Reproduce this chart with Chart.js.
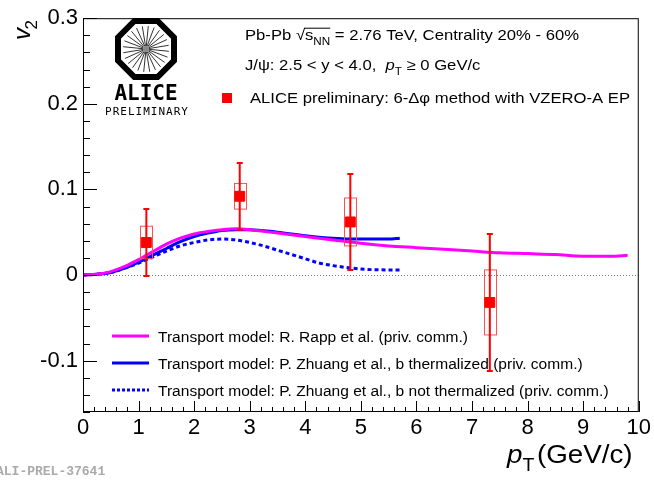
<!DOCTYPE html>
<html>
<head>
<meta charset="UTF-8">
<title>J/psi v2 vs pT</title>
<style>
body{margin:0;padding:0;background:#fff;}
#wrap{width:654px;height:482px;position:relative;}
</style>
<script src="https://cdn.jsdelivr.net/npm/chart.js"></script>
</head>
<body>
<div id="wrap"><canvas id="chart"></canvas></div>
<script>
// axis ticks
const xTicks = [0,1,2,3,4,5,6,7,8,9,10];
const yTicks = [-0.1,0,0.1,0.2,0.3];

// ALICE data points
const dataPt   = [1.14, 2.82, 4.81, 7.32];
const dataV2   = [0.038, 0.092, 0.062, -0.032];
const dataStat = [0.039, 0.039, 0.056, 0.080];
const dataSyst = [0.019, 0.015, 0.028, 0.038];

// Transport model: R. Rapp
const rappPt = [0,0.25,0.5,0.75,1,1.25,1.5,1.75,2,2.25,2.5,2.75,3,3.25,3.5,3.75,4,4.5,5,5.5,6,6.5,7,7.5,8,8.5,9,9.5,9.8];
const rappV2 = [0,0.001,0.004,0.010,0.018,0.027,0.036,0.043,0.048,0.051,0.053,0.054,0.053,0.051,0.049,0.047,0.045,0.041,0.037,0.034,0.032,0.030,0.028,0.026,0.025,0.024,0.022,0.022,0.023];

// Transport model: P. Zhuang, b thermalized
const zhThPt = [0,0.25,0.5,0.75,1,1.25,1.5,1.75,2,2.25,2.5,2.75,3,3.5,4,4.5,5,5.5,5.7];
const zhThV2 = [0,0.001,0.003,0.008,0.015,0.023,0.031,0.039,0.045,0.049,0.052,0.053,0.053,0.050,0.046,0.043,0.042,0.042,0.043];

// Transport model: P. Zhuang, b not thermalized
const zhNtPt = [0,0.25,0.5,0.75,1,1.25,1.5,1.75,2,2.25,2.5,2.75,3,3.25,3.5,3.75,4,4.25,4.5,5,5.5,5.7];
const zhNtV2 = [0,0.001,0.003,0.008,0.014,0.021,0.028,0.034,0.038,0.041,0.042,0.041,0.038,0.034,0.029,0.024,0.019,0.014,0.011,0.007,0.006,0.006];

const legendItems = [
  {label:'Transport model: R. Rapp et al. (priv. comm.)', color:'#ff00ff', dash:[]},
  {label:'Transport model: P. Zhuang et al., b thermalized (priv. comm.)', color:'#0000ff', dash:[]},
  {label:'Transport model: P. Zhuang et al., b not thermalized (priv. comm.)', color:'#0000ff', dash:[3,2]}
];

const RED = '#ff0000';
const FONT = '"Liberation Sans", Arial, sans-serif';
const SX = 1.11; // the reference text is a bit wider than tall
const toXY = (xs, ys) => xs.map((x,i)=>({x:x, y:ys[i]}));

// text runs with subscripts / italics: parts = [[text, kind]]
// kind: 'n' normal, 'sub' subscript, 'it' italic
function richText(ctx, parts, x, y, size){
  ctx.save();
  ctx.translate(x, y);
  ctx.scale(SX, 1);
  let cx = 0;
  parts.forEach(p=>{
    const t = p[0], k = p[1];
    const sub = k === 'sub';
    const s = sub ? size*0.7 : size;
    ctx.font = (k === 'it' ? 'italic ' : '') + s + 'px ' + FONT;
    ctx.fillText(t, cx, sub ? size*0.3 : 0);
    cx += ctx.measureText(t).width;
  });
  ctx.restore();
  return x + cx*SX;
}

function drawLogo(ctx){
  const cx = 146, cy = 49, ap = 28;
  const R = ap / Math.cos(Math.PI/8);
  ctx.save();
  ctx.beginPath();
  for(let k=0;k<8;k++){
    const a = Math.PI/8 + k*Math.PI/4;
    const px = cx + R*Math.cos(a), py = cy + R*Math.sin(a);
    if(k===0) ctx.moveTo(px,py); else ctx.lineTo(px,py);
  }
  ctx.closePath();
  ctx.lineWidth = 6;
  ctx.strokeStyle = '#000';
  ctx.lineJoin = 'miter';
  ctx.stroke();
  ctx.lineWidth = 1;
  ctx.strokeStyle = '#333';
  for(let k=0;k<24;k++){
    const a = k*Math.PI/12 + 0.1;
    ctx.beginPath();
    ctx.moveTo(cx + 3*Math.cos(a), cy + 3*Math.sin(a));
    ctx.lineTo(cx + 23*Math.cos(a), cy + 23*Math.sin(a));
    ctx.stroke();
  }
  ctx.fillStyle = '#888';
  ctx.beginPath(); ctx.arc(cx,cy,3,0,Math.PI*2); ctx.fill();
  ctx.fillStyle = '#000';
  ctx.textAlign = 'center';
  ctx.textBaseline = 'alphabetic';
  ctx.font = 'bold 21px "DejaVu Sans Mono", monospace';
  ctx.fillText('ALICE', cx, 100);
  ctx.font = '11px "DejaVu Sans Mono", monospace';
  ctx.letterSpacing = '1px';
  ctx.fillText('PRELIMINARY', cx+1, 115);
  ctx.letterSpacing = '0px';
  ctx.restore();
}

const decor = {
  id:'decor',
  beforeDatasetsDraw(chart){
    const ctx = chart.ctx, a = chart.chartArea, y = chart.scales.y;
    const y0 = Math.round(y.getPixelForValue(0)) + 0.5;
    ctx.save();
    ctx.strokeStyle = '#777';
    ctx.lineWidth = 1;
    ctx.setLineDash([1,2]);
    ctx.beginPath(); ctx.moveTo(a.left, y0); ctx.lineTo(a.right, y0); ctx.stroke();
    ctx.restore();
  },
  beforeDatasetDraw(chart, args){
    if(args.index !== 0) return;
    const ctx = chart.ctx, xs = chart.scales.x, ys = chart.scales.y;
    ctx.save();
    dataPt.forEach((pt,i)=>{
      const px = xs.getPixelForValue(pt);
      // systematic box
      const bt = ys.getPixelForValue(dataV2[i] + dataSyst[i]);
      const bb = ys.getPixelForValue(dataV2[i] - dataSyst[i]);
      ctx.strokeStyle = '#ff5050';
      ctx.lineWidth = 1;
      ctx.strokeRect(Math.round(px-6)+0.5, bt, 12, bb-bt);
      // stat error bar
      const et = ys.getPixelForValue(dataV2[i] + dataStat[i]);
      const eb = ys.getPixelForValue(dataV2[i] - dataStat[i]);
      ctx.strokeStyle = RED;
      ctx.lineWidth = 2;
      ctx.beginPath();
      ctx.moveTo(px, et); ctx.lineTo(px, eb);
      ctx.moveTo(px-3, et); ctx.lineTo(px+3, et);
      ctx.moveTo(px-3, eb); ctx.lineTo(px+3, eb);
      ctx.stroke();
    });
    ctx.restore();
  },
  afterDraw(chart){
    const ctx = chart.ctx, a = chart.chartArea, xs = chart.scales.x, ys = chart.scales.y;
    ctx.save();
    // frame
    ctx.strokeStyle = '#000';
    ctx.lineWidth = 1;
    ctx.strokeRect(a.left+0.5, a.top+0.5, a.right-a.left-1, a.bottom-a.top-1);
    // x ticks (inside, 5 subdivisions)
    ctx.beginPath();
    for(let v=0; v<=100; v+=2){
      const px = Math.round(xs.getPixelForValue(v/10))+0.5;
      const len = (v%10===0) ? 11 : 5;
      ctx.moveTo(px, a.bottom); ctx.lineTo(px, a.bottom-len);
    }
    // y ticks
    for(let v=-16; v<=30; v+=2){
      const py = Math.round(ys.getPixelForValue(v/100))+0.5;
      const len = (v%10===0) ? 14 : 7;
      ctx.moveTo(a.left, py); ctx.lineTo(a.left+len, py);
    }
    ctx.stroke();

    // axis titles
    ctx.fillStyle = '#000';
    ctx.textBaseline = 'alphabetic';
    ctx.textAlign = 'left';
    richText(ctx, [['p','it'],['T','sub']], 507, 463, 25);
    richText(ctx, [['(GeV/c)','n']], 537, 463, 25);
    ctx.save();
    ctx.translate(30, 40);
    ctx.rotate(-Math.PI/2);
    ctx.font = 'italic 24px ' + FONT;
    ctx.fillText('v', 0, 0);
    ctx.font = '17px ' + FONT;
    ctx.fillText('2', ctx.measureText('v').width + 2, 7);
    ctx.restore();

    // header texts
    const sz = 15;
    let x = richText(ctx, [['Pb-Pb \u221A','n']], 245, 40, sz);
    const sx0 = x;
    x = richText(ctx, [['s','n'],['NN','sub']], x, 40, sz);
    ctx.lineWidth = 1;
    ctx.beginPath(); ctx.moveTo(sx0-1, 40-sz*0.82+0.5); ctx.lineTo(x, 40-sz*0.82+0.5); ctx.stroke();
    richText(ctx, [[' = 2.76 TeV, Centrality 20% - 60%','n']], x, 40, sz);

    richText(ctx, [['J/\u03C8: 2.5 < y < 4.0,  ','n'],['p','it'],['T','sub'],[' \u2265 0 GeV/c','n']], 245, 70, sz);

    ctx.fillStyle = RED;
    ctx.fillRect(222, 93, 10, 10);
    ctx.fillStyle = '#000';
    richText(ctx, [['ALICE preliminary: 6-\u0394\u03C6 method with VZERO-A EP','n']], 250, 103, sz);

    // bottom-left legend
    legendItems.forEach((it,i)=>{
      const ly = 336 + i*27;
      ctx.strokeStyle = it.color;
      ctx.lineWidth = 3;
      ctx.setLineDash(it.dash);
      ctx.beginPath(); ctx.moveTo(112, ly); ctx.lineTo(149, ly); ctx.stroke();
      ctx.setLineDash([]);
      ctx.fillStyle = '#000';
      richText(ctx, [[it.label,'n']], 158, ly+6, 14);
    });

    drawLogo(ctx);

    // figure id
    ctx.fillStyle = '#aaa';
    ctx.textAlign = 'left';
    ctx.font = 'bold 13px "Liberation Mono", "Courier New", monospace';
    ctx.fillText('ALI-PREL-37641', -4, 475);
    ctx.restore();
  }
};

new Chart(document.getElementById('chart'), {
  type:'scatter',
  data:{
    datasets:[
      {label:'ALICE', data:toXY(dataPt,dataV2), backgroundColor:RED, borderColor:RED, pointStyle:'rect', pointRadius:7, pointHoverRadius:7, showLine:false},
      {label:'Rapp', data:toXY(rappPt,rappV2), showLine:true, borderColor:'#ff00ff', borderWidth:3, pointRadius:0, cubicInterpolationMode:'monotone'},
      {label:'Zhuang thermalized', data:toXY(zhThPt,zhThV2), showLine:true, borderColor:'#0000ff', borderWidth:3, pointRadius:0, cubicInterpolationMode:'monotone'},
      {label:'Zhuang not thermalized', data:toXY(zhNtPt,zhNtV2), showLine:true, borderColor:'#0000ff', borderWidth:3, borderDash:[4,3], pointRadius:0, cubicInterpolationMode:'monotone'}
    ]
  },
  options:{
    responsive:true,
    maintainAspectRatio:false,
    animation:false,
    layout:{padding:{left:0, right:14, top:11, bottom:0}},
    plugins:{legend:{display:false}, tooltip:{enabled:false}},
    scales:{
      x:{
        type:'linear', min:0, max:10,
        grid:{display:false, drawTicks:false}, border:{display:false},
        afterBuildTicks:s=>{ s.ticks = xTicks.map(v=>({value:v})); },
        afterFit:s=>{ s.height = 70; },
        ticks:{padding:3, maxRotation:0, autoSkip:false, color:'#000', font:{family:FONT, size:22}, callback:v=>String(v)}
      },
      y:{
        type:'linear', min:-0.16, max:0.3,
        grid:{display:false, drawTicks:false}, border:{display:false},
        afterBuildTicks:s=>{ s.ticks = yTicks.map(v=>({value:v})); },
        afterFit:s=>{ s.width = 83; },
        ticks:{padding:5, autoSkip:false, color:'#000', font:{family:FONT, size:22}, callback:v=>String(Math.round(v*10)/10)}
      }
    }
  },
  plugins:[decor]
});
</script>
</body>
</html>
